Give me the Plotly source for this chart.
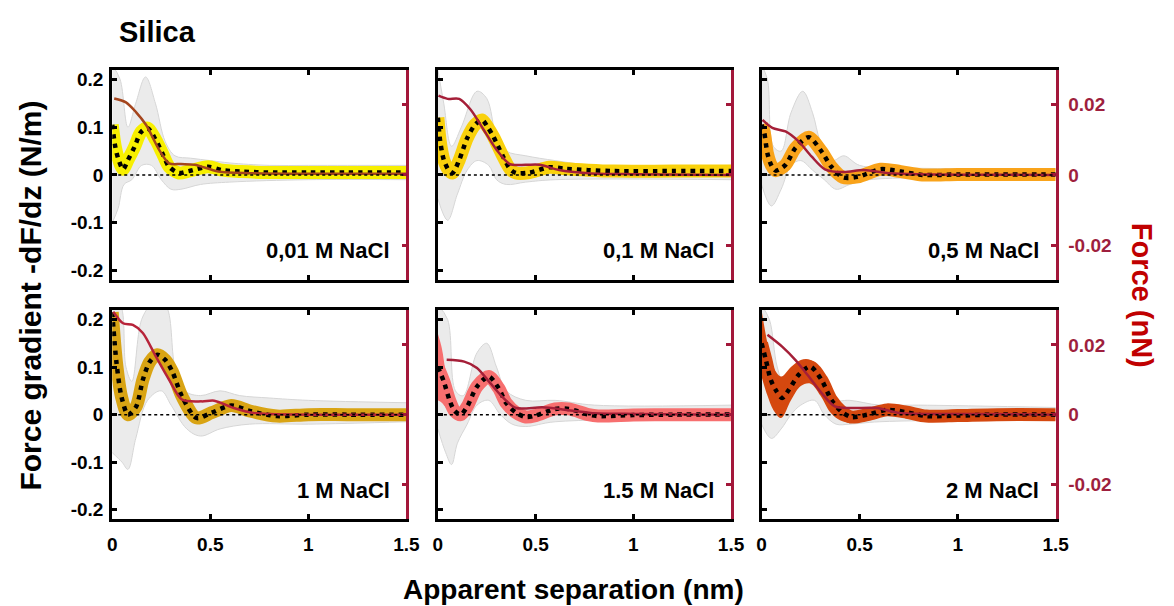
import plotly.graph_objects as go

# ---------------- data ----------------
panel_labels = ["0,01 M NaCl", "0,1 M NaCl", "0,5 M NaCl", "1 M NaCl", "1.5 M NaCl", "2 M NaCl"]
band_colors = ["#f7ef00", "#f9d10c", "#f9a31a", "#d9a414", "#f76f6f", "#d5480f"]
force_colors = ["#a4451d", "#a51f38", "#a51f38", "#b7243a", "#a51f38", "#a51f38"]

x_ticks = [0, 0.5, 1, 1.5]
x_tick_text = ["0", "0.5", "1", "1.5"]
y_ticks = [-0.2, -0.1, 0, 0.1, 0.2]
y_tick_text = ["-0.2", "-0.1", "0", "0.1", "0.2"]
f_ticks = [-0.02, 0, 0.02]
f_tick_text = ["-0.02", "0", "0.02"]

# mean force gradient (N/m) vs separation (nm)
sep_mean_1 = [0, 0.015, 0.03, 0.055, 0.08, 0.114, 0.147, 0.18, 0.222, 0.256, 0.29, 0.34, 0.39, 0.49, 0.56, 0.66, 0.8, 1.0, 1.2, 1.5]
grad_mean_1 = [0.105, 0.06, 0.035, 0.012, 0.031, 0.059, 0.09, 0.098, 0.073, 0.045, 0.017, 0.004, 0.008, 0.017, 0.01, 0.007, 0.005, 0.005, 0.005, 0.005]
sep_mean_2 = [0, 0.012, 0.03, 0.055, 0.075, 0.109, 0.15, 0.19, 0.226, 0.255, 0.284, 0.334, 0.37, 0.40, 0.47, 0.57, 0.65, 0.77, 0.9, 1.2, 1.5]
grad_mean_2 = [0.12, 0.07, 0.032, 0.01, 0.004, 0.031, 0.077, 0.105, 0.115, 0.1, 0.08, 0.038, 0.012, 0.004, 0.005, 0.016, 0.013, 0.01, 0.008, 0.008, 0.008]
sep_mean_3 = [0, 0.013, 0.03, 0.05, 0.072, 0.122, 0.172, 0.24, 0.306, 0.356, 0.415, 0.49, 0.607, 0.71, 0.82, 1.0, 1.2, 1.5]
grad_mean_3 = [0.105, 0.09, 0.045, 0.02, 0.009, 0.021, 0.056, 0.079, 0.049, 0.017, -0.005, -0.004, 0.012, 0.007, 0.0, 0.001, 0.001, 0.001]
sep_mean_4 = [0, 0.022, 0.047, 0.08, 0.122, 0.156, 0.19, 0.23, 0.27, 0.306, 0.356, 0.43, 0.507, 0.607, 0.707, 0.84, 1.0, 1.2, 1.5]
grad_mean_4 = [0.215, 0.108, 0.038, 0.0, 0.017, 0.073, 0.11, 0.126, 0.115, 0.091, 0.038, -0.007, 0.004, 0.019, 0.007, -0.003, 0.0, 0.0, 0.0]
sep_mean_5 = [0, 0.03, 0.06, 0.085, 0.117, 0.15, 0.2, 0.26, 0.31, 0.35, 0.40, 0.45, 0.50, 0.60, 0.67, 0.77, 0.82, 1.0, 1.2, 1.5]
grad_mean_5 = [0.1, 0.07, 0.03, 0.008, 0.0, 0.017, 0.059, 0.08, 0.056, 0.024, 0.004, -0.005, -0.002, 0.012, 0.012, 0.0, -0.003, -0.001, 0.0, 0.0]
sep_mean_6 = [0, 0.022, 0.047, 0.072, 0.105, 0.139, 0.19, 0.248, 0.306, 0.356, 0.406, 0.457, 0.54, 0.64, 0.74, 0.84, 1.0, 1.2, 1.5]
grad_mean_6 = [0.15, 0.115, 0.073, 0.052, 0.035, 0.052, 0.084, 0.101, 0.073, 0.031, 0.007, -0.005, 0.0, 0.01, 0.005, -0.003, -0.002, 0.0, 0.0]

# wider spread band near contact (panels 5 and 6)
sep_spread_5 = [0, 0.02, 0.04, 0.07, 0.1]
spread_hi_5 = [0.17, 0.14, 0.09, 0.04, 0.015]
spread_lo_5 = [0.03, 0.025, 0.015, 0.0, -0.01]
sep_spread_6 = [0, 0.03, 0.06, 0.1, 0.15, 0.2, 0.25, 0.3, 0.35, 0.4, 0.45]
spread_hi_6 = [0.22, 0.15, 0.1, 0.08, 0.1, 0.115, 0.115, 0.095, 0.055, 0.025, 0.01]
spread_lo_6 = [0.08, 0.04, 0.01, -0.007, 0.03, 0.06, 0.065, 0.04, 0.005, -0.012, -0.018]

# force (nN) vs separation (nm)
sep_force_1 = [0.01, 0.07, 0.12, 0.172, 0.24, 0.29, 0.35, 0.42, 0.54, 0.7, 1.0, 1.5]
force_1 = [0.0218, 0.0207, 0.018, 0.0143, 0.0071, 0.0033, 0.0031, 0.0029, 0.001, 0.0005, 0.0003, 0.0003]
sep_force_2 = [0.003, 0.05, 0.109, 0.168, 0.234, 0.30, 0.368, 0.45, 0.52, 0.62, 0.77, 1.0, 1.5]
force_2 = [0.0226, 0.0217, 0.0217, 0.0186, 0.0129, 0.0072, 0.0031, 0.0029, 0.0029, 0.0014, 0.0005, 0.0002, 0.0]
sep_force_3 = [0.005, 0.055, 0.122, 0.19, 0.256, 0.323, 0.42, 0.52, 0.65, 0.8, 1.5]
force_3 = [0.0157, 0.0134, 0.0124, 0.0095, 0.0052, 0.0016, 0.0008, 0.0014, 0.0005, 0.0002, 0.0]
sep_force_4 = [0.005, 0.055, 0.105, 0.156, 0.222, 0.29, 0.356, 0.457, 0.52, 0.62, 0.72, 1.0, 1.5]
force_4 = [0.0295, 0.0262, 0.0257, 0.0234, 0.0167, 0.010, 0.0043, 0.0038, 0.004, 0.0019, 0.0005, 0.0, 0.0]
sep_force_5 = [0.045, 0.135, 0.2, 0.267, 0.335, 0.40, 0.535, 0.65, 0.78, 1.0, 1.5]
force_5 = [0.0157, 0.0152, 0.0134, 0.0091, 0.0048, 0.0019, 0.0021, 0.0014, 0.0005, 0.0002, 0.0]
sep_force_6 = [0.03, 0.105, 0.172, 0.24, 0.306, 0.373, 0.457, 0.59, 0.70, 1.0, 1.5]
force_6 = [0.0229, 0.0195, 0.0157, 0.011, 0.0062, 0.0024, 0.0019, 0.0019, 0.0005, 0.0002, 0.0]

# envelope of the individual (grey) curves
sep_gu_1 = [0, 0.04, 0.08, 0.12, 0.17, 0.22, 0.27, 0.32, 0.4, 0.5, 0.6, 0.8, 1.0, 1.2, 1.5]
grey_up_1 = [0.23, 0.2, 0.1, 0.15, 0.205, 0.15, 0.07, 0.04, 0.035, 0.03, 0.025, 0.02, 0.02, 0.02, 0.02]
sep_gl_1 = [0, 0.03, 0.06, 0.1, 0.15, 0.2, 0.25, 0.3, 0.35, 0.45, 0.6, 1.0, 1.5]
grey_lo_1 = [-0.1, -0.07, -0.02, -0.01, 0.02, 0.02, -0.01, -0.03, -0.03, -0.02, -0.015, -0.01, -0.01]
sep_gu_2 = [0, 0.03, 0.07, 0.12, 0.2, 0.25, 0.3, 0.35, 0.45, 0.6, 0.8, 1.5]
grey_up_2 = [0.22, 0.15, 0.06, 0.1, 0.175, 0.16, 0.08, 0.05, 0.04, 0.03, 0.02, 0.02]
sep_gl_2 = [0, 0.05, 0.1, 0.15, 0.2, 0.26, 0.3, 0.35, 0.45, 0.6, 1.5]
grey_lo_2 = [-0.05, -0.095, -0.04, 0.01, 0.03, 0.02, -0.01, -0.02, -0.015, -0.01, -0.01]
sep_gu_3 = [0, 0.03, 0.06, 0.1, 0.15, 0.21, 0.26, 0.3, 0.36, 0.42, 0.5, 0.7, 1.5]
grey_up_3 = [0.23, 0.2, 0.06, 0.05, 0.13, 0.175, 0.13, 0.07, 0.03, 0.04, 0.02, 0.015, 0.012]
sep_gl_3 = [0, 0.05, 0.1, 0.15, 0.2, 0.26, 0.32, 0.38, 0.45, 0.55, 1.5]
grey_lo_3 = [-0.02, -0.065, -0.03, 0.02, 0.03, 0.01, -0.01, -0.03, -0.02, -0.01, -0.008]
sep_gu_4 = [0, 0.04, 0.07, 0.1, 0.15, 0.2, 0.27, 0.32, 0.37, 0.45, 0.55, 0.65, 0.8, 1.0, 1.5]
grey_up_4 = [0.23, 0.23, 0.1, 0.07, 0.2, 0.23, 0.23, 0.1, 0.05, 0.04, 0.05, 0.04, 0.035, 0.03, 0.025]
sep_gl_4 = [0, 0.05, 0.08, 0.12, 0.18, 0.25, 0.3, 0.38, 0.45, 0.55, 0.7, 1.0, 1.5]
grey_lo_4 = [-0.08, -0.1, -0.115, -0.05, 0.03, 0.05, 0.02, -0.03, -0.045, -0.03, -0.02, -0.02, -0.015]
sep_gu_5 = [0, 0.05, 0.09, 0.13, 0.2, 0.25, 0.3, 0.35, 0.45, 0.6, 0.8, 1.5]
grey_up_5 = [0.23, 0.2, 0.05, 0.04, 0.13, 0.15, 0.1, 0.05, 0.03, 0.03, 0.02, 0.02]
sep_gl_5 = [0, 0.04, 0.07, 0.1, 0.15, 0.2, 0.26, 0.32, 0.38, 0.45, 0.6, 1.5]
grey_lo_5 = [-0.03, -0.08, -0.105, -0.06, -0.02, 0.02, 0.03, 0.0, -0.02, -0.025, -0.015, -0.01]
sep_gu_6 = [0, 0.04, 0.08, 0.12, 0.18, 0.25, 0.3, 0.35, 0.45, 0.6, 0.8, 1.5]
grey_up_6 = [0.23, 0.2, 0.1, 0.06, 0.085, 0.09, 0.06, 0.03, 0.03, 0.02, 0.02, 0.015]
sep_gl_6 = [0, 0.05, 0.1, 0.15, 0.2, 0.27, 0.32, 0.38, 0.45, 0.6, 1.5]
grey_lo_6 = [-0.02, -0.05, -0.03, 0.0, 0.02, 0.03, 0.0, -0.02, -0.02, -0.015, -0.01]

sep_means = [sep_mean_1, sep_mean_2, sep_mean_3, sep_mean_4, sep_mean_5, sep_mean_6]
grad_means = [grad_mean_1, grad_mean_2, grad_mean_3, grad_mean_4, grad_mean_5, grad_mean_6]
sep_forces = [sep_force_1, sep_force_2, sep_force_3, sep_force_4, sep_force_5, sep_force_6]
forces = [force_1, force_2, force_3, force_4, force_5, force_6]
grey_up = [(sep_gu_1, grey_up_1), (sep_gu_2, grey_up_2), (sep_gu_3, grey_up_3),
           (sep_gu_4, grey_up_4), (sep_gu_5, grey_up_5), (sep_gu_6, grey_up_6)]
grey_lo = [(sep_gl_1, grey_lo_1), (sep_gl_2, grey_lo_2), (sep_gl_3, grey_lo_3),
           (sep_gl_4, grey_lo_4), (sep_gl_5, grey_lo_5), (sep_gl_6, grey_lo_6)]
spreads = {4: (sep_spread_5, spread_hi_5, spread_lo_5), 5: (sep_spread_6, spread_hi_6, spread_lo_6)}

# ---------------- layout geometry (pixels) ----------------
W, H = 1174, 606
col_px = [(109, 408), (440, 738), (769, 1068)]
row_px = [(69, 280), (310, 520)]
FONT = "Liberation Sans, Arial, sans-serif"
CRIMSON = "#a3173a"


def px(x):
    return x / W


def py(y):
    return 1 - y / H


fig = go.Figure()
layout = dict(
    width=W, height=H, margin=dict(l=0, r=0, t=0, b=0),
    paper_bgcolor="white", plot_bgcolor="rgba(0,0,0,0)", showlegend=False,
    font=dict(family=FONT, color="black"),
)
annotations = []
shapes = []

for i in range(6):
    r, c = divmod(i, 3)
    n = i + 1
    xs = "" if n == 1 else str(n)
    xref, yref, y2ref = "x" + xs, "y" + xs, "y" + str(n + 6)
    x0, x1 = col_px[c]
    t0, t1 = row_px[r]

    # grey individual-curve envelope
    gx_u, gy_u = grey_up[i]
    gx_l, gy_l = grey_lo[i]
    fig.add_trace(go.Scatter(x=gx_l, y=gy_l, mode="lines", line=dict(color="#d6d6d6", width=1, shape="spline"),
                             xaxis=xref, yaxis=yref, hoverinfo="skip"))
    fig.add_trace(go.Scatter(x=gx_u, y=gy_u, mode="lines", line=dict(color="#d6d6d6", width=1, shape="spline"),
                             fill="tonexty", fillcolor="rgba(222,222,222,0.6)",
                             xaxis=xref, yaxis=yref, hoverinfo="skip"))
    # extra spread band
    if i in spreads:
        sx, shi, slo = spreads[i]
        fig.add_trace(go.Scatter(x=sx, y=slo, mode="lines", line=dict(color=band_colors[i], width=0, shape="spline"),
                                 xaxis=xref, yaxis=yref, hoverinfo="skip"))
        fig.add_trace(go.Scatter(x=sx, y=shi, mode="lines", line=dict(color=band_colors[i], width=0, shape="spline"),
                                 fill="tonexty", fillcolor=band_colors[i],
                                 xaxis=xref, yaxis=yref, hoverinfo="skip"))
    # thick coloured band
    fig.add_trace(go.Scatter(x=sep_means[i], y=grad_means[i], mode="lines",
                             line=dict(color=band_colors[i], width=13, shape="spline", smoothing=0.8),
                             xaxis=xref, yaxis=yref, hoverinfo="skip"))
    # dotted mean
    fig.add_trace(go.Scatter(x=sep_means[i], y=grad_means[i], mode="lines",
                             line=dict(color="black", width=4.5, dash="4.5px,5px", shape="spline", smoothing=0.8),
                             xaxis=xref, yaxis=yref, hoverinfo="skip"))
    # force curve on the right axis
    fig.add_trace(go.Scatter(x=sep_forces[i], y=forces[i], mode="lines",
                             line=dict(color=force_colors[i], width=2.5, shape="spline", smoothing=0.8),
                             xaxis=xref, yaxis=y2ref, hoverinfo="skip"))

    # zero reference line
    shapes.append(dict(type="line", xref=xref + " domain", yref=yref, x0=0, x1=1, y0=0, y1=0,
                       line=dict(color="black", width=1.5, dash="dot"), layer="above"))

    tickfont = dict(family=FONT, size=19, color="black", weight="bold")
    layout["xaxis" + xs] = dict(
        domain=[px(x0), px(x1)], range=[0, 1.5], anchor=yref,
        tickmode="array", tickvals=x_ticks, ticktext=x_tick_text,
        showticklabels=(r == 1), ticks="inside", ticklen=5, tickwidth=2.5, tickcolor="black",
        showline=True, linewidth=3, linecolor="black", mirror="ticks",
        showgrid=False, zeroline=False, tickfont=tickfont, ticklabelstandoff=6,
    )
    layout["yaxis" + xs] = dict(
        domain=[py(t1), py(t0)], range=[-0.22, 0.22], anchor=xref,
        tickmode="array", tickvals=y_ticks, ticktext=y_tick_text,
        showticklabels=(c == 0), ticks="inside", ticklen=5, tickwidth=2.5, tickcolor="black",
        showline=True, linewidth=3, linecolor="black", mirror=False,
        showgrid=False, zeroline=False, tickfont=tickfont, ticklabelstandoff=2,
    )
    layout["yaxis" + str(n + 6)] = dict(
        overlaying=yref, side="right", anchor=xref, range=[-0.03, 0.03],
        tickmode="array", tickvals=f_ticks, ticktext=f_tick_text,
        showticklabels=(c == 2), ticks="inside", ticklen=5, tickwidth=2.5, tickcolor=CRIMSON,
        showline=True, linewidth=2.5, linecolor=CRIMSON,
        showgrid=False, zeroline=False,
        tickfont=dict(family=FONT, size=19, color="#9e1f3e", weight="bold"), ticklabelstandoff=6,
    )

    annotations.append(dict(text="<b>" + panel_labels[i] + "</b>", xref="paper", yref="paper",
                            x=px(x1 - 15), y=py(t0 + 181), xanchor="right", yanchor="middle",
                            showarrow=False, font=dict(family=FONT, size=22, color="black")))

annotations += [
    dict(text="<b>Silica</b>", xref="paper", yref="paper", x=px(114), y=py(31), xanchor="left", yanchor="middle",
         showarrow=False, font=dict(family=FONT, size=29, color="black")),
    dict(text="<b>Force gradient -dF/dz (N/m)</b>", xref="paper", yref="paper", x=px(25), y=py(296),
         xanchor="center", yanchor="middle", textangle=-90, showarrow=False,
         font=dict(family=FONT, size=30, color="black")),
    dict(text="<b>Force (nN)</b>", xref="paper", yref="paper", x=px(1156), y=py(295),
         xanchor="center", yanchor="middle", textangle=90, showarrow=False,
         font=dict(family=FONT, size=29, color="#c00000")),
    dict(text="<b>Apparent separation (nm)</b>", xref="paper", yref="paper", x=px(578), y=py(590),
         xanchor="center", yanchor="middle", showarrow=False,
         font=dict(family=FONT, size=28, color="black")),
]
layout["annotations"] = annotations
layout["shapes"] = shapes
fig.update_layout(**layout)
fig.write_html("out.html", config={"displayModeBar": False},
               post_script="document.body.style.margin='0px';document.body.style.overflow='hidden';")
